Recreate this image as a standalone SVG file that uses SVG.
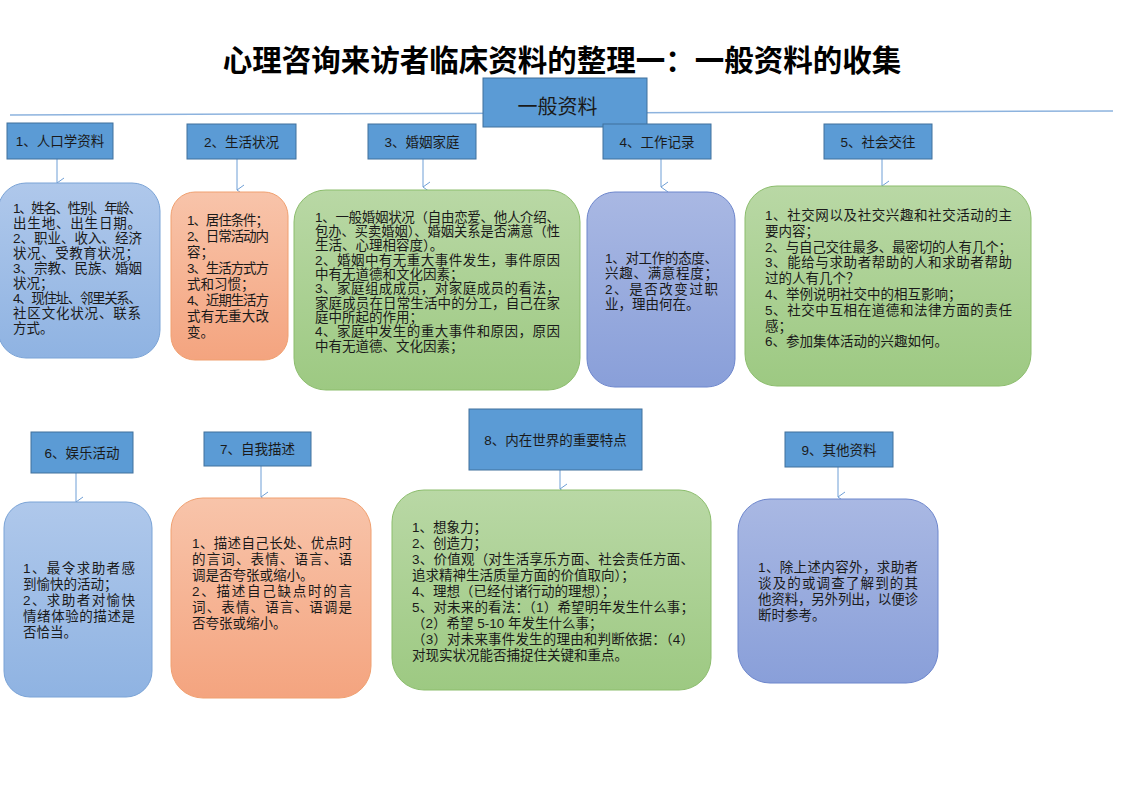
<svg xmlns="http://www.w3.org/2000/svg" width="1122" height="793" viewBox="0 0 1122 793">
<defs>
<linearGradient id="gBlue" x1="0" y1="0" x2="0" y2="1"><stop offset="0" stop-color="#afc8eb"/><stop offset="1" stop-color="#8fb3e2"/></linearGradient>
<linearGradient id="gOrange" x1="0" y1="0" x2="0" y2="1"><stop offset="0" stop-color="#f8c4aa"/><stop offset="1" stop-color="#f4a47f"/></linearGradient>
<linearGradient id="gGreen" x1="0" y1="0" x2="0" y2="1"><stop offset="0" stop-color="#b9d8a5"/><stop offset="1" stop-color="#9dc982"/></linearGradient>
<linearGradient id="gPurple" x1="0" y1="0" x2="0" y2="1"><stop offset="0" stop-color="#a9b8e3"/><stop offset="1" stop-color="#899fd9"/></linearGradient>
<marker id="arr" markerUnits="userSpaceOnUse" markerWidth="12" markerHeight="12" refX="6" refY="10" orient="auto-start-reverse" viewBox="0 0 12 12">
<path d="M1,3 L6,10 L11,3" fill="none" stroke="#6f9fd6" stroke-width="1"/>
</marker>
</defs>
<style>
.title{font-family:"Noto Sans CJK SC","Liberation Sans",sans-serif;font-weight:bold;font-size:29.5px;fill:#000;}
.hdr{fill:#5b9bd5;stroke:#41719c;stroke-width:1;}
.ht{font-family:"Liberation Sans","Noto Sans CJK SC",sans-serif;font-size:13.5px;fill:#1a1a1a;text-anchor:middle;}
.ct{font-family:"Liberation Sans","Noto Sans CJK SC",sans-serif;font-size:13.5px;fill:#1a1a1a;}
.blue{fill:url(#gBlue);stroke:#7aa3d6;stroke-width:1;}
.orange{fill:url(#gOrange);stroke:#f0a070;stroke-width:1;}
.green{fill:url(#gGreen);stroke:#8cbd6d;stroke-width:1;}
.purple{fill:url(#gPurple);stroke:#6d86cc;stroke-width:1;}
.conn line{stroke:#6f9fd6;stroke-width:1;marker-end:url(#arr);}
</style>
<rect x="0" y="0" width="1122" height="793" fill="#ffffff"/>
<text class="title" x="562" y="71" text-anchor="middle">心理咨询来访者临床资料的整理一：一般资料的收集</text>
<line x1="10" y1="115" x2="1113" y2="111" stroke="#8db3de" stroke-width="1.5"/>
<g id="root">
<rect class="hdr" x="483" y="78" width="164" height="49"/>
<text x="557.5" y="114" text-anchor="middle" font-family="Noto Sans CJK SC, sans-serif" font-size="20" fill="#1a1a1a">一般资料</text>
</g>
<g class="conn" id="connectors">
<line x1="57" y1="159" x2="57" y2="183"/>
<line x1="237" y1="159" x2="237" y2="190"/>
<line x1="423" y1="159" x2="423" y2="187"/>
<line x1="661" y1="159" x2="661" y2="187"/>
<line x1="882" y1="159" x2="882" y2="186"/>
<line x1="76" y1="473" x2="76" y2="502"/>
<line x1="261" y1="466" x2="261" y2="497"/>
<line x1="560" y1="470" x2="560" y2="489"/>
<line x1="838" y1="467" x2="838" y2="497"/>
</g>
<g id="h1"><rect class="hdr" x="7" y="123" width="106" height="36"/><text class="ht" x="60" y="146">1、人口学资料</text></g>
<g id="h2"><rect class="hdr" x="187" y="124" width="109" height="35"/><text class="ht" x="241.5" y="146.5">2、生活状况</text></g>
<g id="h3"><rect class="hdr" x="368" y="124" width="108" height="35"/><text class="ht" x="422" y="146.5">3、婚姻家庭</text></g>
<g id="h4"><rect class="hdr" x="603" y="124" width="108" height="35"/><text class="ht" x="657" y="146.5">4、工作记录</text></g>
<g id="h5"><rect class="hdr" x="824" y="124" width="108" height="35"/><text class="ht" x="878" y="146.5">5、社会交往</text></g>
<g id="h6"><rect class="hdr" x="31" y="432" width="102" height="41"/><text class="ht" x="82" y="457.5">6、娱乐活动</text></g>
<g id="h7"><rect class="hdr" x="204" y="432" width="107" height="34"/><text class="ht" x="257.5" y="454">7、自我描述</text></g>
<g id="h8"><rect class="hdr" x="469" y="409" width="173" height="61"/><text class="ht" x="555.5" y="444.5">8、内在世界的重要特点</text></g>
<g id="h9"><rect class="hdr" x="785" y="432" width="108" height="35"/><text class="ht" x="839" y="454.5">9、其他资料</text></g>

<g id="b1">
<rect class="blue" x="-2" y="183" width="162" height="175" rx="28"/>
<text class="ct" x="13" y="213" textLength="129" lengthAdjust="spacing">1、姓名、性别、年龄、</text>
<text class="ct" x="13" y="228" textLength="128" lengthAdjust="spacing">出生地、出生日期。</text>
<text class="ct" x="13" y="243" textLength="129" lengthAdjust="spacing">2、职业、收入、经济</text>
<text class="ct" x="13" y="258" textLength="126" lengthAdjust="spacing">状况、受教育状况；</text>
<text class="ct" x="13" y="273" textLength="129" lengthAdjust="spacing">3、宗教、民族、婚姻</text>
<text class="ct" x="13" y="288">状况；</text>
<text class="ct" x="13" y="303" textLength="129" lengthAdjust="spacing">4、现住址、邻里关系、</text>
<text class="ct" x="13" y="318" textLength="128" lengthAdjust="spacing">社区文化状况、联系</text>
<text class="ct" x="13" y="333">方式。</text>
</g>
<g id="b2">
<rect class="orange" x="171" y="192" width="117" height="168" rx="24"/>
<text class="ct" x="187" y="225" textLength="82" lengthAdjust="spacing">1、居住条件；</text>
<text class="ct" x="187" y="241" textLength="82" lengthAdjust="spacing">2、日常活动内</text>
<text class="ct" x="187" y="257">容；</text>
<text class="ct" x="187" y="273" textLength="82" lengthAdjust="spacing">3、生活方式方</text>
<text class="ct" x="187" y="289">式和习惯；</text>
<text class="ct" x="187" y="305" textLength="82" lengthAdjust="spacing">4、近期生活方</text>
<text class="ct" x="187" y="321" textLength="82" lengthAdjust="spacing">式有无重大改</text>
<text class="ct" x="187" y="337">变。</text>
</g>
<g id="b3">
<rect class="green" x="294" y="190" width="286" height="200" rx="32"/>
<text class="ct" font-size="13" x="315" y="221.5" textLength="245" lengthAdjust="spacing">1、一般婚姻状况（自由恋爱、他人介绍、</text>
<text class="ct" font-size="13" x="315" y="235.8" textLength="245" lengthAdjust="spacingAndGlyphs">包办、买卖婚姻）、婚姻关系是否满意（性</text>
<text class="ct" font-size="13" x="315" y="250.2">生活、心理相容度）。</text>
<text class="ct" font-size="13" x="315" y="264.5" textLength="245" lengthAdjust="spacing">2、婚姻中有无重大事件发生，事件原因</text>
<text class="ct" font-size="13" x="315" y="278.8">中有无道德和文化因素；</text>
<text class="ct" font-size="13" x="315" y="293.2" textLength="245" lengthAdjust="spacing">3、家庭组成成员，对家庭成员的看法，</text>
<text class="ct" font-size="13" x="315" y="307.5" textLength="245" lengthAdjust="spacing">家庭成员在日常生活中的分工，自己在家</text>
<text class="ct" font-size="13" x="315" y="321.8">庭中所起的作用；</text>
<text class="ct" font-size="13" x="315" y="336.2" textLength="245" lengthAdjust="spacing">4、家庭中发生的重大事件和原因，原因</text>
<text class="ct" font-size="13" x="315" y="350.5">中有无道德、文化因素；</text>
</g>
<g id="b4">
<rect class="purple" x="587" y="192" width="148" height="195" rx="28"/>
<text class="ct" x="605" y="263" textLength="113" lengthAdjust="spacing">1、对工作的态度、</text>
<text class="ct" x="605" y="278.3" textLength="113" lengthAdjust="spacing">兴趣、满意程度；</text>
<text class="ct" x="605" y="293.6" textLength="113" lengthAdjust="spacing">2、是否改变过职</text>
<text class="ct" x="605" y="309">业，理由何在。</text>
</g>
<g id="b5">
<rect class="green" x="745" y="186" width="286" height="200" rx="32"/>
<text class="ct" x="765" y="220" textLength="247" lengthAdjust="spacing">1、社交网以及社交兴趣和社交活动的主</text>
<text class="ct" x="765" y="235.8">要内容；</text>
<text class="ct" x="765" y="251.6" textLength="247" lengthAdjust="spacing">2、与自己交往最多、最密切的人有几个；</text>
<text class="ct" x="765" y="267.4" textLength="247" lengthAdjust="spacing">3、能给与求助者帮助的人和求助者帮助</text>
<text class="ct" x="765" y="283.2">过的人有几个？</text>
<text class="ct" x="765" y="299">4、举例说明社交中的相互影响；</text>
<text class="ct" x="765" y="314.8" textLength="247" lengthAdjust="spacing">5、社交中互相在道德和法律方面的责任</text>
<text class="ct" x="765" y="330.6">感；</text>
<text class="ct" x="765" y="346.4">6、参加集体活动的兴趣如何。</text>
</g>
<g id="b6">
<rect class="blue" x="4" y="502" width="148" height="195" rx="26"/>
<text class="ct" x="23" y="573" textLength="112" lengthAdjust="spacing">1、最令求助者感</text>
<text class="ct" x="23" y="589">到愉快的活动；</text>
<text class="ct" x="23" y="605" textLength="112" lengthAdjust="spacing">2、求助者对愉快</text>
<text class="ct" x="23" y="621" textLength="112" lengthAdjust="spacing">情绪体验的描述是</text>
<text class="ct" x="23" y="637">否恰当。</text>
</g>
<g id="b7">
<rect class="orange" x="171" y="498" width="200" height="200" rx="32"/>
<text class="ct" x="192" y="548" textLength="160" lengthAdjust="spacing">1、描述自己长处、优点时</text>
<text class="ct" x="192" y="564" textLength="160" lengthAdjust="spacing">的言词、表情、语言、语</text>
<text class="ct" x="192" y="580">调是否夸张或缩小。</text>
<text class="ct" x="192" y="596" textLength="160" lengthAdjust="spacing">2、描述自己缺点时的言</text>
<text class="ct" x="192" y="612" textLength="160" lengthAdjust="spacing">词、表情、语言、语调是</text>
<text class="ct" x="192" y="628">否夸张或缩小。</text>
</g>
<g id="b8">
<rect class="green" x="392" y="490" width="319" height="200" rx="32"/>
<text class="ct" x="412" y="532">1、想象力；</text>
<text class="ct" x="412" y="548">2、创造力；</text>
<text class="ct" x="412" y="564" textLength="282" lengthAdjust="spacing">3、价值观（对生活享乐方面、社会责任方面、</text>
<text class="ct" x="412" y="580">追求精神生活质量方面的价值取向）；</text>
<text class="ct" x="412" y="596">4、理想（已经付诸行动的理想）；</text>
<text class="ct" x="412" y="612" textLength="282" lengthAdjust="spacing">5、对未来的看法：（1）希望明年发生什么事；</text>
<text class="ct" x="412" y="628">（2）希望 5-10 年发生什么事；</text>
<text class="ct" x="412" y="644" textLength="282" lengthAdjust="spacing">（3）对未来事件发生的理由和判断依据：（4）</text>
<text class="ct" x="412" y="660">对现实状况能否捕捉住关键和重点。</text>
</g>
<g id="b9">
<rect class="purple" x="738" y="499" width="200" height="184" rx="32"/>
<text class="ct" x="758" y="572" textLength="160" lengthAdjust="spacing">1、除上述内容外，求助者</text>
<text class="ct" x="758" y="588" textLength="160" lengthAdjust="spacing">谈及的或调查了解到的其</text>
<text class="ct" x="758" y="604" textLength="160" lengthAdjust="spacing">他资料，另外列出，以便诊</text>
<text class="ct" x="758" y="620">断时参考。</text>
</g>
</svg>
